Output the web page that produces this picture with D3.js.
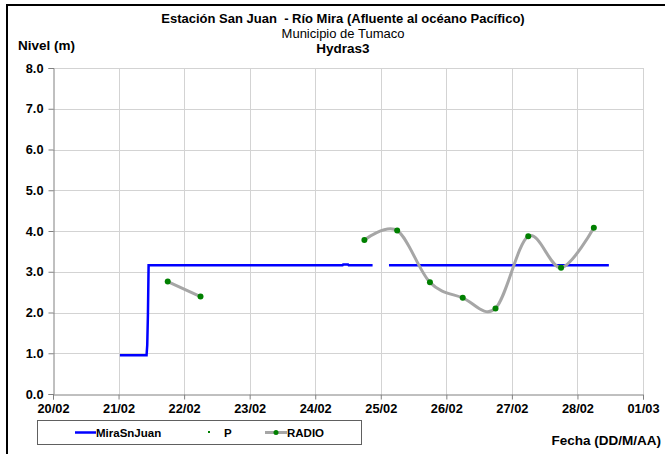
<!DOCTYPE html>
<html>
<head>
<meta charset="utf-8">
<script src="https://cdn.jsdelivr.net/npm/d3@7/dist/d3.min.js"></script>
<style>
  html, body { margin: 0; padding: 0; background: #fff; }
  svg { display: block; font-family: "Liberation Sans", Arial, sans-serif; }
</style>
</head>
<body>
<svg id="chart" width="665" height="454"></svg>
<script>
// Axis ticks
const xTickLabels = ["20/02", "21/02", "22/02", "23/02", "24/02", "25/02", "26/02", "27/02", "28/02", "01/03"];
const yTickValues = [0, 1, 2, 3, 4, 5, 6, 7, 8];

// Level sensor series (MiraSnJuan); null marks a data gap
const miraTimes = [
  "2011-02-21T00:30", "2011-02-21T10:15", "2011-02-21T10:30", "2011-02-21T10:45",
  "2011-02-21T11:00", "2011-02-24T10:00", "2011-02-24T10:15", "2011-02-24T12:00",
  "2011-02-24T12:15", "2011-02-24T21:00", "2011-02-24T21:15", "2011-02-25T03:00",
  "2011-02-28T11:30"
];
const miraValues = [0.95, 0.95, 1.20, 1.94, 3.16, 3.16, 3.18, 3.18, 3.16, 3.16, null, 3.16, 3.16];

// Radio readings (06:00 and 18:00); null marks a data gap
const radioTimes = [
  "2011-02-21T18:00", "2011-02-22T06:00", "2011-02-23T12:00",
  "2011-02-24T18:00", "2011-02-25T06:00", "2011-02-25T18:00", "2011-02-26T06:00",
  "2011-02-26T18:00", "2011-02-27T06:00", "2011-02-27T18:00", "2011-02-28T06:00"
];
const radioValues = [2.76, 2.39, null, 3.78, 4.01, 2.74, 2.36, 2.10, 3.87, 3.10, 4.08];

const parse = d3.timeParse("%Y-%m-%dT%H:%M");
const mira = miraTimes.map((t, i) => ({ t: parse(t), v: miraValues[i] }));
const radio = radioTimes.map((t, i) => ({ t: parse(t), v: radioValues[i] }));

const svg = d3.select("#chart");
const plot = { left: 53, right: 643, top: 68, bottom: 394 };

const x = d3.scaleTime()
  .domain([parse("2011-02-20T00:00"), parse("2011-03-01T00:00")])
  .range([plot.left, plot.right]);
const y = d3.scaleLinear().domain([0, 8]).range([plot.bottom, plot.top]);
const dayTicks = d3.timeDay.range(parse("2011-02-20T00:00"), parse("2011-03-01T12:00"));

// Outer frame
svg.append("path")
  .attr("d", "M7,454 V5 H665")
  .attr("fill", "none").attr("stroke", "#000").attr("stroke-width", 2);

// Grid
const grid = svg.append("g").attr("stroke", "#d3d3d3").attr("stroke-width", 1);
grid.selectAll("line.h").data(yTickValues.slice(1)).join("line")
  .attr("x1", plot.left).attr("x2", plot.right)
  .attr("y1", d => Math.round(y(d)) + 0.5).attr("y2", d => Math.round(y(d)) + 0.5);
grid.selectAll("line.v").data(dayTicks.slice(1)).join("line")
  .attr("y1", plot.top).attr("y2", plot.bottom)
  .attr("x1", d => Math.round(x(d)) + 0.5).attr("x2", d => Math.round(x(d)) + 0.5);

// Axes
const yAxis = svg.append("g")
  .attr("transform", `translate(${plot.left + 0.5},0)`)
  .call(d3.axisLeft(y).tickValues(yTickValues).tickFormat(d3.format(".1f")).tickSize(5).tickPadding(5));
const xAxis = svg.append("g")
  .attr("transform", `translate(0,${plot.bottom + 0.5})`)
  .call(d3.axisBottom(x).tickValues(dayTicks).tickFormat((d, i) => xTickLabels[i]).tickSize(5).tickPadding(2));
[yAxis, xAxis].forEach(a => {
  a.select(".domain").attr("stroke", "#808080");
  a.selectAll(".tick line").attr("stroke", "#808080");
  a.selectAll(".tick text").attr("fill", "#000").attr("font-size", 12.8).attr("font-weight", "bold")
    .attr("font-family", "Liberation Sans, Arial, sans-serif");
});
xAxis.selectAll(".tick text").attr("dy", "0.92em");

// Series
const miraLine = d3.line().defined(d => d.v !== null).x(d => x(d.t)).y(d => y(d.v));
svg.append("path").datum(mira)
  .attr("d", miraLine).attr("fill", "none")
  .attr("stroke", "#0000ff").attr("stroke-width", 2.5);

const radioLine = d3.line().defined(d => d.v !== null)
  .x(d => x(d.t)).y(d => y(d.v)).curve(d3.curveCardinal.tension(0));
svg.append("path").datum(radio)
  .attr("d", radioLine).attr("fill", "none")
  .attr("stroke", "#a6a6a6").attr("stroke-width", 3).attr("stroke-linecap", "round");
svg.selectAll("circle.radio").data(radio.filter(d => d.v !== null)).join("circle")
  .attr("cx", d => x(d.t)).attr("cy", d => y(d.v)).attr("r", 3)
  .attr("fill", "#008000");

// Titles
const title = svg.append("g").attr("text-anchor", "middle").attr("fill", "#000");
title.append("text").attr("x", 343).attr("y", 23).attr("font-size", 13).attr("font-weight", "bold")
  .text("Estación San Juan  - Río Mira (Afluente al océano Pacífico)").style("white-space", "pre");
title.append("text").attr("x", 343).attr("y", 38).attr("font-size", 13)
  .text("Municipio de Tumaco");
title.append("text").attr("x", 343).attr("y", 53).attr("font-size", 13.5).attr("font-weight", "bold")
  .text("Hydras3");

svg.append("text").attr("x", 18).attr("y", 50).attr("font-size", 13.5).attr("font-weight", "bold")
  .text("Nivel (m)");
svg.append("text").attr("x", 661).attr("y", 445).attr("text-anchor", "end")
  .attr("font-size", 13.5).attr("font-weight", "bold").text("Fecha (DD/M/AA)");

// Legend
const lg = svg.append("g");
lg.append("rect").attr("x", 37.5).attr("y", 420.5).attr("width", 324).attr("height", 24)
  .attr("fill", "#fff").attr("stroke", "#606060").attr("stroke-width", 1);
lg.append("line").attr("x1", 75).attr("x2", 96).attr("y1", 432.5).attr("y2", 432.5)
  .attr("stroke", "#0000ff").attr("stroke-width", 2.5);
lg.append("text").attr("x", 96).attr("y", 437).attr("font-size", 11.5).attr("font-weight", "bold").text("MiraSnJuan");
lg.append("rect").attr("x", 208).attr("y", 431).attr("width", 2).attr("height", 2).attr("fill", "#008000");
lg.append("text").attr("x", 224).attr("y", 437).attr("font-size", 11.5).attr("font-weight", "bold").text("P");
lg.append("line").attr("x1", 265).attr("x2", 287).attr("y1", 432.5).attr("y2", 432.5)
  .attr("stroke", "#a6a6a6").attr("stroke-width", 3);
lg.append("circle").attr("cx", 276).attr("cy", 432.5).attr("r", 2.5).attr("fill", "#008000");
lg.append("text").attr("x", 287).attr("y", 437).attr("font-size", 11.5).attr("font-weight", "bold").text("RADIO");
</script>
</body>
</html>
